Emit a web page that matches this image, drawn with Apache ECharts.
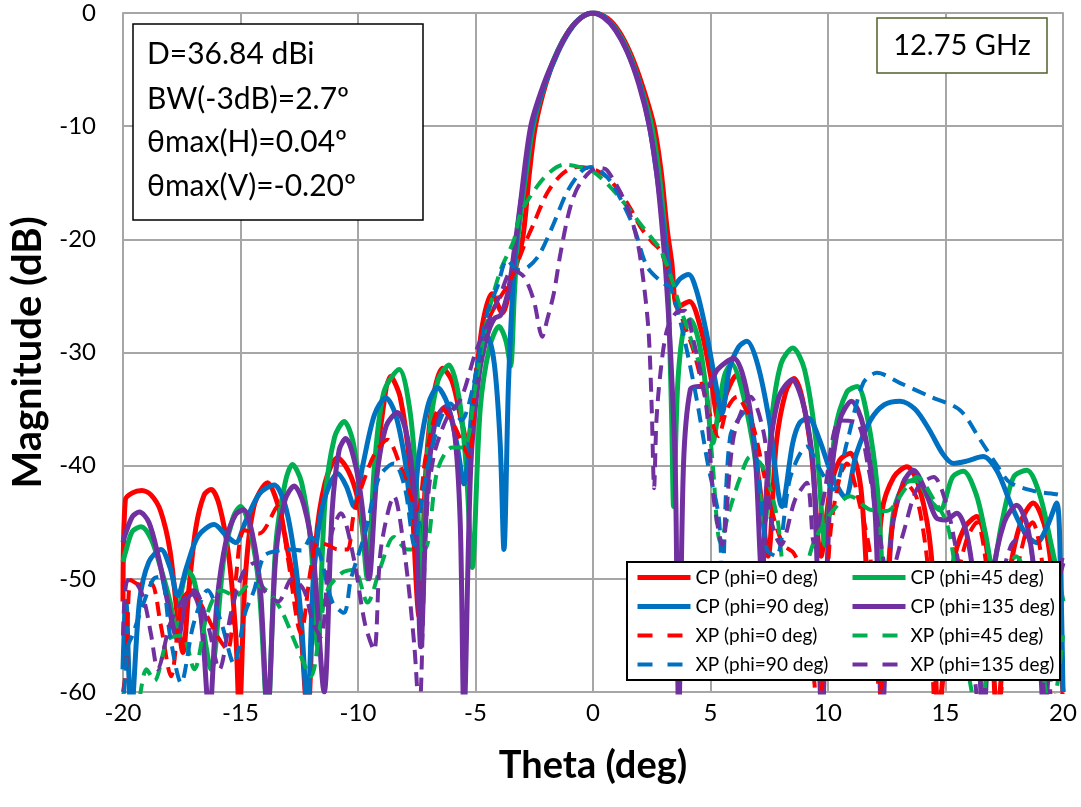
<!DOCTYPE html>
<html><head><meta charset="utf-8">
<script src="https://cdn.jsdelivr.net/npm/echarts@6/dist/echarts.min.js"></script>
<style>html,body{margin:0;padding:0;background:#fff}#c{width:1081px;height:807px}</style>
</head><body><div id="c"></div>
<script>
// ---- data (theta deg, magnitude dB) ----
var seriesNames = ['CP (phi=0 deg)','CP (phi=45 deg)','CP (phi=90 deg)','CP (phi=135 deg)','XP (phi=0 deg)','XP (phi=45 deg)','XP (phi=90 deg)','XP (phi=135 deg)'];
var infoLines = ['D=36.84 dBi','BW(-3dB)=2.7º','θmax(H)=0.04º','θmax(V)=-0.20º'];
var freqLabel = '12.75 GHz';

var cp0 = [[-20,-52],[-19.9,-43],[-19.6,-42.4],[-19.2,-42.2],[-18.8,-42.6],[-18.4,-44],[-18.0,-47.5],[-17.7,-53],[-17.45,-56.5],[-17.2,-51],[-16.9,-45.5],[-16.55,-42.6],[-16.25,-42.1],[-15.9,-43.5],[-15.5,-48],[-15.2,-55],[-15.05,-62],[-14.8,-50],[-14.43,-43.6],[-13.85,-41.5],[-13.4,-43.5],[-13.0,-47.4],[-12.5,-53],[-12.15,-62],[-11.8,-47],[-11.4,-41.5],[-10.87,-39.3],[-10.4,-40.5],[-10.0,-43],[-9.6,-48],[-9.3,-42],[-9.0,-36],[-8.61,-32.1],[-8.2,-34],[-7.8,-40],[-7.4,-53.3],[-7.1,-40],[-6.8,-34],[-6.4,-31.4],[-6.0,-32.5],[-5.6,-36],[-5.3,-38.5],[-5.0,-33],[-4.7,-27.5],[-4.3,-24.8],[-3.86,-26.5],[-3.5,-24],[-3.0,-20],[-2.7,-14],[-2.45,-10],[-2.0,-6.2],[-1.5,-3.4],[-1.0,-1.5],[-0.5,-0.4],[0.05,0],[0.6,-0.45],[1.1,-1.6],[1.6,-3.6],[2.1,-6.4],[2.6,-10],[2.9,-14],[3.15,-19],[3.35,-22],[3.6,-26],[4.1,-25.5],[4.6,-28],[5.0,-32],[5.35,-36],[5.7,-33.5],[6.1,-32],[6.6,-35],[7.1,-42],[7.45,-48],[7.8,-38],[8.2,-33.5],[8.55,-32.3],[8.9,-34],[9.3,-39],[9.7,-48],[10.1,-42],[10.5,-39.5],[10.95,-38.9],[11.4,-42],[11.85,-55],[12.3,-44],[12.8,-41],[13.36,-40.1],[13.9,-42],[14.4,-48],[14.7,-62],[15.3,-49],[15.8,-45.5],[16.33,-44.5],[16.8,-48],[17.2,-62],[17.7,-50],[18.2,-45],[18.73,-43.3],[19.3,-46],[19.8,-55],[20,-60]];

var cp45 = [[-20,-48.5],[-19.9,-47.7],[-19.6,-45.8],[-19.23,-45.4],[-18.8,-46.5],[-18.4,-49],[-18.0,-52],[-17.7,-55],[-17.5,-51],[-17.25,-49.3],[-17.0,-50],[-16.7,-53],[-16.25,-58],[-15.7,-48],[-15.3,-44.5],[-15.0,-43.6],[-14.6,-45.5],[-14.2,-51],[-13.85,-62],[-13.5,-47],[-13.1,-41.5],[-12.79,-39.9],[-12.4,-41.5],[-12.0,-47],[-11.72,-56],[-11.4,-43],[-11.0,-37.5],[-10.59,-36.1],[-10.2,-38],[-9.9,-43],[-9.6,-50],[-9.3,-40],[-8.9,-33.5],[-8.25,-31.5],[-7.8,-35],[-7.5,-42],[-7.3,-50],[-7.0,-38],[-6.6,-32.5],[-6.13,-31.1],[-5.7,-34],[-5.4,-40],[-5.14,-49],[-4.8,-35],[-4.4,-29.5],[-4.0,-27.7],[-3.7,-29],[-3.51,-31.2],[-3.35,-25],[-3.2,-20],[-2.9,-15],[-2.55,-10],[-2.05,-6.3],[-1.5,-3.3],[-1.0,-1.5],[-0.5,-0.4],[0,0],[0.5,-0.4],[1.0,-1.5],[1.5,-3.4],[2.0,-6.3],[2.5,-10],[2.8,-14],[3.0,-18],[3.15,-22],[3.25,-28],[3.35,-36],[3.43,-43.6],[3.6,-33],[3.85,-28],[4.14,-27.1],[4.5,-29],[4.8,-33],[5.1,-38],[5.35,-35],[5.6,-32],[5.9,-31],[6.3,-33],[6.8,-38],[7.3,-45],[7.6,-36],[8.0,-31],[8.5,-29.6],[9.0,-31.5],[9.5,-38],[9.88,-47],[10.3,-37],[10.8,-33.5],[11.25,-33],[11.7,-36],[12.1,-42],[12.43,-52],[12.8,-44],[13.3,-41.5],[13.78,-41.3],[14.3,-43],[14.77,-43.9],[15.3,-41],[15.76,-40.5],[16.3,-42.5],[16.7,-46],[17.0,-49],[17.4,-45],[17.9,-41],[18.46,-40.4],[19.0,-42.5],[19.5,-47],[20,-52]];

var cp90 = [[-20,-58],[-19.88,-52],[-19.65,-62],[-19.3,-52],[-18.9,-48.5],[-18.38,-47.4],[-18.0,-49],[-17.67,-51.5],[-17.3,-49],[-16.8,-46.2],[-16.12,-45.2],[-15.6,-46.2],[-15.2,-46.8],[-14.8,-45],[-14.2,-42.5],[-13.57,-41.7],[-13.1,-43.5],[-12.7,-48],[-12.4,-54],[-12.15,-62],[-11.9,-50],[-11.5,-43.5],[-10.87,-40.7],[-10.5,-41.8],[-10.17,-43.6],[-9.8,-40],[-9.3,-35.5],[-8.82,-34],[-8.4,-35.5],[-8.0,-39.5],[-7.69,-44.5],[-7.4,-39],[-7.0,-34.5],[-6.62,-33.1],[-6.2,-34.5],[-5.8,-38],[-5.49,-41.6],[-5.1,-34],[-4.8,-30],[-4.5,-28.6],[-4.2,-31],[-3.95,-38],[-3.79,-47.4],[-3.6,-33],[-3.4,-24],[-3.2,-19],[-2.95,-15],[-2.6,-10],[-2.05,-6.3],[-1.5,-3.5],[-1.0,-1.6],[-0.5,-0.4],[0,0],[0.5,-0.4],[1.0,-1.6],[1.5,-3.6],[2.0,-6.4],[2.4,-10],[2.7,-14],[2.95,-18],[3.2,-22],[3.43,-24.2],[3.7,-23.5],[4.07,-23.1],[4.4,-24.5],[4.8,-28],[5.2,-32.5],[5.49,-35.4],[5.8,-31.5],[6.2,-29.5],[6.55,-29],[7.0,-31],[7.5,-36],[8.04,-43.6],[8.5,-38],[8.8,-36.2],[9.17,-35.8],[9.6,-37.5],[10.2,-41],[10.73,-42.8],[11.2,-39],[11.8,-36],[12.4,-34.6],[13.07,-34.3],[13.7,-35],[14.3,-36.8],[14.9,-39],[15.34,-39.8],[15.9,-39.6],[16.6,-39.2],[17.2,-40.5],[17.8,-43.5],[18.4,-46],[18.88,-46.8],[19.3,-45.5],[19.73,-43.3],[19.9,-50],[20,-60]];

var cp135 = [[-20,-46.8],[-19.94,-46.3],[-19.6,-44.5],[-19.3,-44.1],[-18.9,-45],[-18.5,-48],[-18.1,-52],[-17.67,-55.4],[-17.35,-52],[-17.04,-51.3],[-16.7,-53],[-16.33,-62],[-16.0,-52],[-15.6,-46.5],[-15.2,-44.3],[-14.87,-43.9],[-14.5,-46],[-14.15,-51],[-13.85,-62],[-13.5,-48],[-13.1,-43],[-12.72,-41.8],[-12.3,-43.5],[-11.9,-48],[-11.44,-60],[-11.1,-44],[-10.8,-38.6],[-10.52,-37.6],[-10.1,-40],[-9.8,-44],[-9.53,-50],[-9.2,-41],[-8.8,-36.5],[-8.32,-35.3],[-7.9,-37.5],[-7.55,-44],[-7.33,-56],[-7.05,-42],[-6.7,-36],[-6.27,-34.8],[-5.9,-37],[-5.65,-45],[-5.49,-62],[-5.2,-40],[-4.85,-32],[-4.5,-28.5],[-4.2,-27],[-3.93,-26.7],[-3.6,-24.5],[-3.35,-21],[-3.1,-17],[-2.65,-10],[-2.1,-6.3],[-1.55,-3.6],[-1.0,-1.5],[-0.5,-0.4],[-0.05,0],[0.45,-0.4],[0.95,-1.5],[1.45,-3.4],[1.95,-6.3],[2.4,-10],[2.7,-14],[2.9,-18],[3.1,-23],[3.3,-30],[3.5,-40],[3.65,-62],[3.85,-40],[4.14,-33.3],[4.5,-33],[4.85,-33],[5.3,-31.5],[5.99,-30.5],[6.5,-33],[6.9,-39],[7.19,-50],[7.45,-40],[7.9,-34],[8.47,-32.4],[9.0,-35],[9.4,-41],[9.74,-62],[10.1,-42],[10.5,-36],[11.0,-34.3],[11.5,-36.5],[12.0,-44],[12.3,-62],[12.7,-46],[13.2,-41.5],[13.64,-40.4],[14.1,-42],[14.6,-44.6],[15.0,-44.8],[15.48,-44.2],[15.9,-46],[16.3,-52],[16.6,-62],[17.0,-50],[17.5,-45],[18.03,-43.5],[18.5,-45.5],[18.9,-52],[19.2,-62],[19.6,-52],[20,-48.6]];

var xp0 = [[-20,-60],[-19.87,-58],[-19.66,-50.1],[-19.3,-50.5],[-18.81,-50.4],[-18.4,-54],[-17.96,-58.6],[-17.5,-52],[-17.1,-51],[-16.5,-53],[-16.0,-55],[-15.55,-56.3],[-15.2,-50],[-14.84,-45.7],[-14.2,-46],[-13.42,-43.6],[-13.0,-48],[-12.43,-54.8],[-12.0,-49],[-11.72,-46.8],[-11.3,-47],[-10.87,-47.4],[-10.45,-47.4],[-10.2,-44.5],[-9.88,-42.1],[-9.3,-39],[-8.75,-37.7],[-8.2,-40],[-7.47,-43.9],[-7.1,-39],[-6.48,-34.8],[-5.9,-36.5],[-5.28,-39.2],[-5.0,-32],[-4.71,-28.6],[-4.2,-26],[-3.51,-23.6],[-2.94,-20.6],[-2.52,-18.6],[-1.95,-15.9],[-1.3,-14.2],[-0.67,-13.6],[0,-13.8],[0.6,-14.5],[1.17,-15.9],[1.6,-17.3],[2.02,-18.9],[2.5,-20.2],[2.87,-21],[3.3,-23.5],[3.72,-26.5],[4.3,-30],[4.85,-34.5],[5.34,-37.4],[5.7,-35],[6.13,-33.9],[6.5,-35],[6.83,-36.6],[7.3,-41],[7.68,-44.5],[8.1,-47],[8.53,-47.7],[9.0,-50],[9.6,-62],[10.1,-46],[10.5,-41],[10.8,-39.8],[11.37,-43.6],[11.8,-48],[12.2,-60],[12.7,-46],[13.3,-41.5],[13.8,-43],[14.3,-50],[14.6,-62],[15.3,-52],[15.9,-46.5],[16.33,-45],[16.9,-52],[17.2,-62],[17.8,-52],[18.4,-46],[18.7,-45],[19.2,-50],[19.6,-62],[20,-60]];

var xp45 = [[-20,-60],[-19.5,-62],[-19.0,-58],[-18.66,-59],[-18.1,-55.4],[-17.5,-55],[-16.97,-58],[-16.4,-53],[-15.83,-51],[-15.2,-51.5],[-14.56,-50.4],[-13.9,-51],[-13.28,-52.7],[-12.6,-56],[-12.0,-58.6],[-11.6,-54],[-11.3,-51],[-10.7,-49.5],[-10.17,-49.2],[-9.6,-52.1],[-9.03,-48.9],[-8.47,-46.3],[-7.9,-47.4],[-7.19,-47.4],[-6.62,-40.4],[-6.0,-38.4],[-5.5,-38.4],[-5.0,-33],[-4.5,-27],[-3.93,-22.7],[-3.37,-20.1],[-3.08,-17.7],[-2.37,-15.3],[-1.8,-14],[-1.24,-13.4],[-0.6,-13.6],[0,-14],[0.7,-15.3],[1.45,-17.1],[2.0,-18.6],[2.58,-20.1],[2.87,-20.9],[3.3,-23.2],[3.65,-25.6],[4.0,-27.8],[4.43,-30.4],[4.78,-32.7],[5.1,-40],[5.42,-46.8],[5.8,-44],[6.27,-41],[6.7,-39.2],[7.2,-40],[7.83,-44.5],[8.1,-49],[8.6,-52],[9.39,-46.8],[10.2,-44],[10.95,-42.7],[11.8,-43.9],[12.5,-44],[13.3,-42],[13.78,-41],[14.5,-43],[15.06,-45.1],[15.4,-49],[15.8,-56],[16.4,-62],[17.0,-55],[17.6,-50],[18.0,-48],[18.5,-50],[19.0,-56],[19.5,-62],[20,-55]];

var xp90 = [[-20,-62],[-19.8,-56],[-19.6,-55],[-19.1,-52],[-18.7,-50],[-18.38,-49.8],[-18.0,-55],[-17.53,-59.2],[-17.0,-54],[-16.4,-51],[-15.8,-54],[-15.28,-57.5],[-14.8,-53],[-14.42,-51],[-14.0,-48],[-13.4,-47.5],[-12.86,-47.4],[-12.4,-47.5],[-12.0,-46.3],[-11.6,-48],[-11.1,-52],[-10.6,-53],[-10.3,-50],[-9.7,-46],[-9.1,-41],[-8.47,-39.8],[-8.0,-42],[-7.6,-47],[-7.2,-42],[-6.6,-36.5],[-6.06,-34.5],[-5.6,-36],[-5.1,-33],[-4.5,-26.5],[-4.07,-24.2],[-3.65,-21.8],[-3.22,-22.7],[-2.8,-22.5],[-2.3,-21.4],[-1.67,-18.6],[-1.1,-15.8],[-0.5,-14],[-0.1,-13.6],[0.4,-14.1],[0.88,-15.3],[1.73,-18.9],[2.3,-22.4],[3.0,-23.9],[3.29,-24.2],[3.8,-28],[4.4,-34],[4.9,-40],[5.35,-44.5],[5.5,-50],[5.84,-37.4],[6.55,-35.1],[7.0,-40],[7.4,-47.4],[7.8,-48],[8.4,-41],[9.1,-38.3],[9.7,-40.5],[10.23,-42.1],[10.8,-38],[11.5,-32.7],[12.08,-31.8],[13.07,-32.7],[14.35,-33.9],[15.62,-35.1],[16.47,-37.7],[17.2,-40],[17.75,-41.5],[18.88,-42.3],[19.87,-42.6],[20,-43]];

var xp135 = [[-20,-55],[-19.8,-50.1],[-19.4,-50.5],[-19.1,-51.9],[-18.8,-55],[-18.52,-58],[-18.0,-54],[-17.5,-52],[-16.97,-51],[-16.4,-54],[-15.9,-58],[-15.4,-53],[-14.9,-49.5],[-14.42,-48.6],[-14.0,-51],[-13.4,-52],[-12.8,-50],[-12.3,-51],[-11.9,-54],[-11.58,-55.1],[-11.16,-46.3],[-10.73,-44.2],[-10.2,-48],[-9.7,-54],[-9.32,-56.3],[-9.03,-47.4],[-8.47,-42.7],[-8.0,-48],[-7.6,-56],[-7.4,-62],[-7.1,-45],[-6.78,-39.2],[-6.2,-35.7],[-5.6,-34],[-5.0,-30],[-4.4,-27],[-3.93,-24.8],[-3.43,-22.7],[-2.94,-23.3],[-2.52,-25.4],[-2.16,-28.6],[-1.95,-27.1],[-1.67,-24.8],[-1.38,-21.2],[-0.96,-17.1],[-0.53,-15.0],[0.18,-13.7],[0.6,-13.9],[1.45,-17.1],[1.88,-20.1],[2.16,-23.9],[2.37,-28.3],[2.5,-35],[2.6,-42],[2.7,-36],[2.87,-31.8],[3.15,-28],[3.58,-26.4],[3.9,-26.3],[4.27,-28.9],[4.6,-32],[4.85,-35.3],[5.14,-43],[5.5,-47],[5.99,-37.4],[6.7,-33.9],[7.3,-37.5],[7.55,-44.5],[8.0,-47],[8.6,-43],[9.1,-41.5],[9.4,-46.8],[9.8,-43],[10.52,-36],[11.23,-36.2],[11.7,-40],[12.08,-44.5],[12.6,-50],[13.2,-46],[13.8,-42],[14.49,-41],[15.06,-43.6],[15.5,-48],[16.0,-54],[16.5,-62],[17.2,-52],[17.8,-47],[18.4,-46],[18.9,-52],[19.3,-62],[19.8,-50],[20,-48]];

var seriesData = [cp0, cp45, cp90, cp135, xp0, xp45, xp90, xp135];
var colors = ['#ff0000','#00b050','#0070c0','#7030a0','#ff0000','#00b050','#0070c0','#7030a0'];

var FONT = 'Lato, "Noto Sans", sans-serif';
var GRID = '#a6a6a6';
var DASH = [14, 8];

var series = seriesData.map(function (d, i) {
  var dashed = i >= 4;
  return {
    name: seriesNames[i], type: 'line', data: d, showSymbol: false, symbol: 'none',
    smooth: 0.3, clip: true, z: 2,
    lineStyle: { color: colors[i], width: dashed ? 4 : 5, type: dashed ? DASH : 'solid', cap: 'butt' },
    itemStyle: { color: colors[i] }
  };
});

function legendItem(i) {
  var dashed = i >= 4;
  return {
    name: seriesNames[i],
    itemStyle: { opacity: 0 },
    lineStyle: { color: colors[i], width: dashed ? 4 : 5, type: dashed ? [15, 15] : 'solid', opacity: 1, cap: 'butt' }
  };
}

function legendCol(idx, left) {
  return {
    data: idx.map(legendItem), orient: 'vertical', left: left, top: 568, itemWidth: 53, itemHeight: 14, itemGap: 10,
    z: 20, selectedMode: false,
    itemStyle: { opacity: 0 },
    textStyle: { fontFamily: FONT, fontSize: 19, color: '#000' },
    padding: 0
  };
}

var chart = echarts.init(document.getElementById('c'), null, { renderer: 'canvas' });
chart.setOption({
  animation: false,
  backgroundColor: '#fff',
  grid: { left: 122, right: 18, top: 13, bottom: 115, containLabel: false },
  xAxis: {
    type: 'value', min: -20, max: 20, interval: 5,
    name: 'Theta (deg)', nameLocation: 'middle', nameGap: 55,
    nameTextStyle: { fontFamily: FONT, fontSize: 38, fontWeight: 'bold', color: '#000' },
    axisLine: { show: true, lineStyle: { color: GRID, width: 2 } },
    axisTick: { show: true, inside: false, length: 9, lineStyle: { color: GRID, width: 2 } },
    axisLabel: { fontFamily: FONT, fontSize: 24, color: '#000', margin: 9 },
    splitLine: { show: true, lineStyle: { color: GRID, width: 2 } }
  },
  yAxis: {
    type: 'value', min: -60, max: 0, interval: 10,
    name: 'Magnitude (dB)', nameLocation: 'middle', nameGap: 75, nameRotate: 90,
    nameTextStyle: { fontFamily: FONT, fontSize: 40, fontWeight: 'bold', color: '#000' },
    axisLine: { show: true, lineStyle: { color: GRID, width: 2 } },
    axisTick: { show: true, inside: false, length: 9, lineStyle: { color: GRID, width: 2 } },
    axisLabel: { fontFamily: FONT, fontSize: 24, color: '#000', margin: 27 },
    splitLine: { show: true, lineStyle: { color: GRID, width: 2 } }
  },
  legend: [
    legendCol([0, 2, 4, 6], 635),
    legendCol([1, 3, 5, 7], 850)
  ],
  graphic: [
    { type: 'rect', z: 10, shape: { x: 627, y: 562, width: 433, height: 118 }, style: { fill: '#fff', stroke: '#000', lineWidth: 2 } },
    { type: 'rect', z: 10, shape: { x: 133, y: 24, width: 290, height: 196 }, style: { fill: '#fff', stroke: '#000', lineWidth: 1.5 } },
    { type: 'text', z: 11, x: 147, y: 54, style: { text: infoLines[0], font: '30px ' + FONT, fill: '#000', textVerticalAlign: 'middle', verticalAlign: 'middle' } },
    { type: 'text', z: 11, x: 147, y: 99, style: { text: infoLines[1], font: '30px ' + FONT, fill: '#000', textVerticalAlign: 'middle', verticalAlign: 'middle' } },
    { type: 'text', z: 11, x: 147, y: 142, style: { text: infoLines[2], font: '30px ' + FONT, fill: '#000', textVerticalAlign: 'middle', verticalAlign: 'middle' } },
    { type: 'text', z: 11, x: 147, y: 186, style: { text: infoLines[3], font: '30px ' + FONT, fill: '#000', textVerticalAlign: 'middle', verticalAlign: 'middle' } },
    { type: 'rect', z: 10, shape: { x: 877, y: 18, width: 170, height: 55 }, style: { fill: '#fff', stroke: '#4f6228', lineWidth: 1.5 } },
    { type: 'text', z: 11, x: 962, y: 46, style: { text: freqLabel, font: '29px ' + FONT, fill: '#000', align: 'center', textAlign: 'center', verticalAlign: 'middle', textVerticalAlign: 'middle' } }
  ],
  series: series
});
</script>
</body></html>
